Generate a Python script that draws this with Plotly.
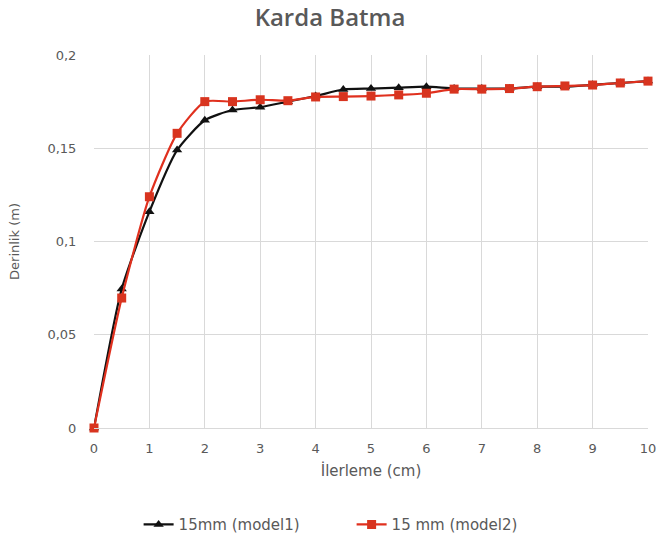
import plotly.graph_objects as go

x_vals = [0, 0.5, 1, 1.5, 2, 2.5, 3, 3.5, 4, 4.5, 5, 5.5, 6, 6.5, 7, 7.5, 8, 8.5, 9, 9.5, 10]
model1 = [0, 0.0745, 0.116, 0.149, 0.165, 0.1705, 0.172, 0.175, 0.178, 0.1815, 0.182, 0.1825, 0.183,
          0.182, 0.182, 0.182, 0.183, 0.183, 0.184, 0.185, 0.186]
model2 = [0, 0.0697, 0.124, 0.158, 0.175, 0.175, 0.176, 0.1755, 0.1775, 0.1777, 0.178, 0.1786, 0.1795,
          0.1817, 0.1817, 0.182, 0.183, 0.1834, 0.1839, 0.185, 0.186]
series_names = ["15mm (model1)", "15 mm (model2)"]
x_ticks = list(range(0, 11))
y_ticks = [0, 0.05, 0.1, 0.15, 0.2]
y_tick_labels = ["0", "0,05", "0,1", "0,15", "0,2"]

fig = go.Figure()
fig.add_trace(go.Scatter(
    x=x_vals, y=model1, name=series_names[0], mode="lines+markers",
    line=dict(color="#111111", width=2.2, shape="spline", smoothing=0.6),
    marker=dict(symbol="triangle-up", size=9, color="#111111"),
    cliponaxis=False))
fig.add_trace(go.Scatter(
    x=x_vals, y=model2, name=series_names[1], mode="lines+markers",
    line=dict(color="#e0301e", width=2.2, shape="spline", smoothing=0.6),
    marker=dict(symbol="square", size=9, color="#d8341f"),
    cliponaxis=False))

fig.update_layout(
    width=660, height=537,
    paper_bgcolor="white", plot_bgcolor="white",
    margin=dict(l=94, r=12, t=55, b=109, autoexpand=False),
    font=dict(family="DejaVu Sans, Verdana, sans-serif", color="#595959", size=13),
    title=dict(text="Karda Batma", x=0.5, xanchor="center", y=0.968, yref="container",
               yanchor="middle",
               font=dict(size=24, color="#595959", family="Open Sans, sans-serif", weight=600)),
    showlegend=True,
    legend=dict(orientation="h", x=0.465, xanchor="center", y=-0.215, yanchor="top",
                entrywidth=168, entrywidthmode="pixels",
                font=dict(size=15, color="#595959")),
)
fig.update_xaxes(range=[0, 10], tickvals=x_ticks, showgrid=True, gridcolor="#d9d9d9",
                 showline=True, linecolor="#d9d9d9", zeroline=False,
                 ticks="outside", ticklen=8, tickcolor="rgba(0,0,0,0)", automargin=False,
                 title=dict(text="İlerleme (cm)", font=dict(size=15, color="#595959"), standoff=10))
fig.update_yaxes(range=[0, 0.2], tickvals=y_ticks, ticktext=y_tick_labels, showgrid=True,
                 gridcolor="#d9d9d9", zeroline=False, showline=False,
                 ticks="outside", ticklen=14, tickcolor="rgba(0,0,0,0)", automargin=False,
                 title=dict(text="Derinlik (m)", font=dict(size=13, color="#595959"), standoff=24))

fig.write_html("out.html", config={"displayModeBar": False},
               post_script="document.body.style.margin='0';document.body.style.overflow='hidden';")
